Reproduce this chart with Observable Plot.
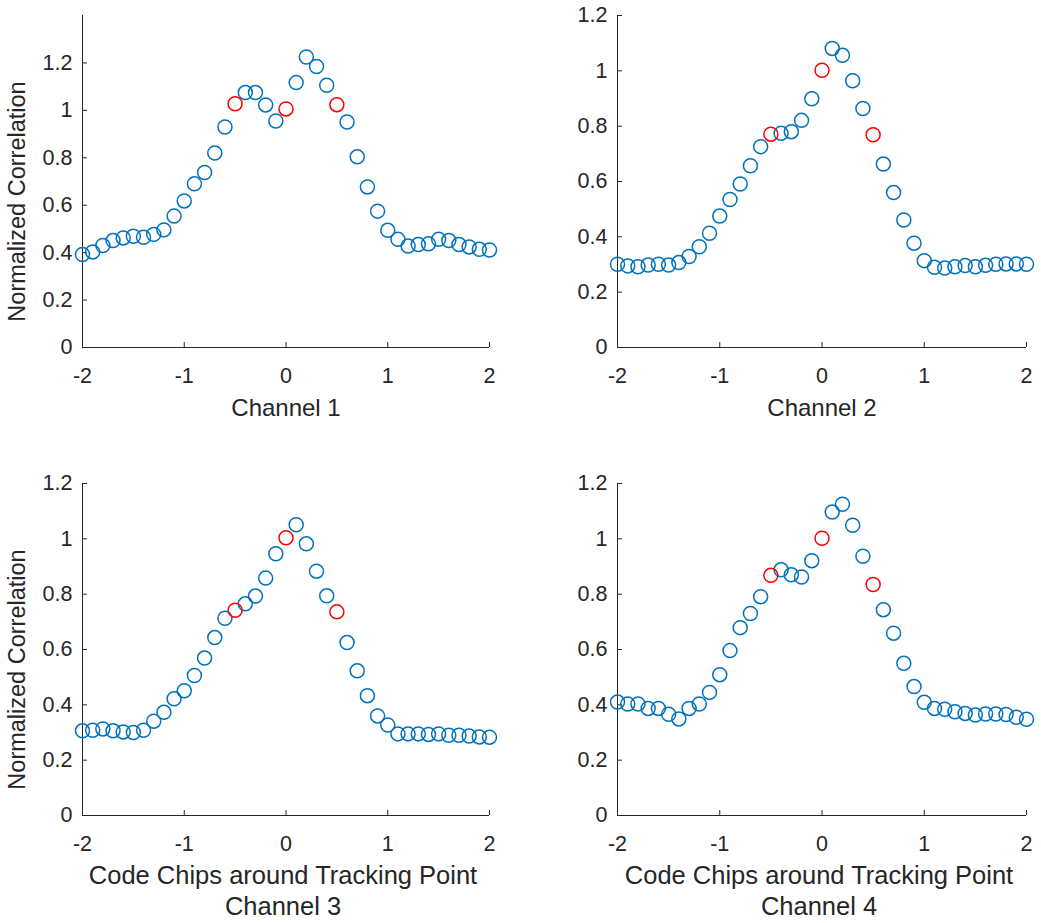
<!DOCTYPE html>
<html>
<head>
<meta charset="utf-8">
<script src="https://cdn.jsdelivr.net/npm/d3@7"></script>
<script src="https://cdn.jsdelivr.net/npm/@observablehq/plot@0.6"></script>
<style>
  html, body { margin: 0; padding: 0; background: #ffffff; }
  #fig { position: relative; width: 1041px; height: 923px; background: #ffffff; overflow: hidden; }
  #fig .panel { position: absolute; }
  #fig .panel svg { overflow: visible; }
</style>
</head>
<body>
<div id="fig"></div>
<script>
// ---------------- data ----------------
const chips = [-2, -1.9, -1.8, -1.7, -1.6, -1.5, -1.4, -1.3, -1.2, -1.1,
               -1, -0.9, -0.8, -0.7, -0.6, -0.5, -0.4, -0.3, -0.2, -0.1,
               0, 0.1, 0.2, 0.3, 0.4, 0.5, 0.6, 0.7, 0.8, 0.9,
               1, 1.1, 1.2, 1.3, 1.4, 1.5, 1.6, 1.7, 1.8, 1.9, 2];
const highlightChips = [-0.5, 0, 0.5];

const channel1 = [0.392, 0.403, 0.430, 0.451, 0.462, 0.469, 0.465, 0.477, 0.496, 0.554,
                  0.618, 0.690, 0.738, 0.820, 0.930, 1.028, 1.075, 1.075, 1.023, 0.955,
                  1.006, 1.117, 1.225, 1.185, 1.106, 1.024, 0.951, 0.804, 0.677, 0.575,
                  0.494, 0.456, 0.428, 0.434, 0.437, 0.456, 0.451, 0.434, 0.424, 0.414, 0.411];
const channel2 = [0.301, 0.295, 0.292, 0.298, 0.301, 0.298, 0.307, 0.329, 0.364, 0.413,
                  0.475, 0.535, 0.591, 0.657, 0.726, 0.771, 0.774, 0.780, 0.821, 0.899,
                  1.002, 1.081, 1.056, 0.964, 0.864, 0.769, 0.663, 0.560, 0.461, 0.377,
                  0.314, 0.290, 0.287, 0.292, 0.296, 0.292, 0.297, 0.301, 0.302, 0.302, 0.301];
const channel3 = [0.306, 0.308, 0.313, 0.306, 0.302, 0.300, 0.308, 0.341, 0.373, 0.422,
                  0.451, 0.506, 0.569, 0.643, 0.713, 0.742, 0.765, 0.793, 0.858, 0.946,
                  1.004, 1.051, 0.982, 0.883, 0.794, 0.736, 0.625, 0.523, 0.433, 0.360,
                  0.327, 0.295, 0.295, 0.295, 0.293, 0.295, 0.290, 0.290, 0.287, 0.284, 0.283];
const channel4 = [0.410, 0.403, 0.403, 0.387, 0.387, 0.366, 0.349, 0.387, 0.403, 0.445,
                  0.509, 0.596, 0.679, 0.730, 0.791, 0.868, 0.888, 0.870, 0.862, 0.921,
                  1.002, 1.097, 1.125, 1.049, 0.937, 0.835, 0.744, 0.659, 0.550, 0.466,
                  0.409, 0.387, 0.384, 0.375, 0.369, 0.363, 0.367, 0.367, 0.365, 0.355, 0.348];

const xTicks = [-2, -1, 0, 1, 2];
const yTicks = [0, 0.2, 0.4, 0.6, 0.8, 1, 1.2];
const yMax = [1.4, 1.2, 1.2, 1.2];
const channelNames = ["Channel 1", "Channel 2", "Channel 3", "Channel 4"];
const xTitle = "Code Chips around Tracking Point";
const yTitle = "Normalized Correlation";

// ---------------- styles / layout ----------------
const FONT = "Arial, 'Liberation Sans', Helvetica, sans-serif";
const INK = "#262626";
const BLUE = "#0072BD";
const RED = "#FF0000";
const TICK_FS = 21.5;
const LABEL_FS_TOP = 24;
const LABEL_FS_BOTTOM = 25.5;
const YLABEL_FS = 23.5;
const TICK_LEN = 5;

const cols = [
  {left: 0, width: 520, marginLeft: 82, marginRight: 31},
  {left: 535, width: 506, marginLeft: 82, marginRight: 15}
];
const rows = [
  {top: 0, height: 440, marginTop: 15, marginBottom: 93},
  {top: 440, height: 483, marginTop: 43, marginBottom: 108}
];

const series = [channel1, channel2, channel3, channel4];
const fig = document.getElementById("fig");

series.forEach((vals, i) => {
  const col = cols[i % 2];
  const row = rows[Math.floor(i / 2)];
  const plotW = col.width - col.marginLeft - col.marginRight;
  const plotH = row.height - row.marginTop - row.marginBottom;
  const table = chips.map((c, k) => ({chip: c, value: vals[k], hi: highlightChips.includes(c)}));
  const isLeft = i % 2 === 0;
  const isBottom = i >= 2;

  const marks = [
    // axis lines
    Plot.ruleY([0], {stroke: INK, strokeWidth: 1}),
    Plot.ruleX([xTicks[0]], {stroke: INK, strokeWidth: 1}),
    // inward ticks
    Plot.ruleX(xTicks, {x: d => d, stroke: INK, strokeWidth: 1, insetTop: plotH - TICK_LEN}),
    Plot.ruleY(yTicks, {y: d => d, stroke: INK, strokeWidth: 1, insetRight: plotW - TICK_LEN}),
    // tick labels
    Plot.axisX({ticks: xTicks, tickSize: 0, tickPadding: 20, tickFormat: d => String(d),
                fontSize: TICK_FS, fill: INK, label: null}),
    Plot.axisY({ticks: yTicks, tickSize: 0, tickPadding: 10, tickFormat: d => String(d),
                fontSize: TICK_FS, fill: INK, label: null}),
    // data
    Plot.dot(table.filter(d => !d.hi), {x: "chip", y: "value", r: 7, stroke: BLUE, strokeWidth: 1.5, fill: "none"}),
    Plot.dot(table.filter(d => d.hi), {x: "chip", y: "value", r: 7, stroke: RED, strokeWidth: 1.5, fill: "none"})
  ];

  if (isBottom) {
    marks.push(Plot.text([xTitle], {frameAnchor: "bottom", dx: -3, dy: 68, lineAnchor: "bottom",
                                    fontSize: LABEL_FS_BOTTOM, fill: INK}));
    marks.push(Plot.text([channelNames[i]], {frameAnchor: "bottom", dx: -3, dy: 99, lineAnchor: "bottom",
                                             fontSize: LABEL_FS_BOTTOM, fill: INK}));
  } else {
    marks.push(Plot.text([channelNames[i]], {frameAnchor: "bottom", dy: 68, lineAnchor: "bottom",
                                             fontSize: LABEL_FS_TOP, fill: INK}));
  }
  if (isLeft) {
    marks.push(Plot.text([yTitle], {frameAnchor: "left", dx: -65, dy: 20, rotate: -90,
                                    lineAnchor: "middle", textAnchor: "middle",
                                    fontSize: YLABEL_FS, fill: INK}));
  }

  const svg = Plot.plot({
    width: col.width,
    height: row.height,
    marginLeft: col.marginLeft,
    marginRight: col.marginRight,
    marginTop: row.marginTop,
    marginBottom: row.marginBottom,
    x: {domain: [xTicks[0], xTicks[xTicks.length - 1]], label: null},
    y: {domain: [0, yMax[i]], label: null},
    style: {fontFamily: FONT, fontSize: TICK_FS + "px", color: INK, background: "transparent", overflow: "visible"},
    marks
  });

  const holder = document.createElement("div");
  holder.className = "panel";
  holder.style.left = col.left + "px";
  holder.style.top = row.top + "px";
  holder.appendChild(svg);
  fig.appendChild(holder);
});
</script>
</body>
</html>
